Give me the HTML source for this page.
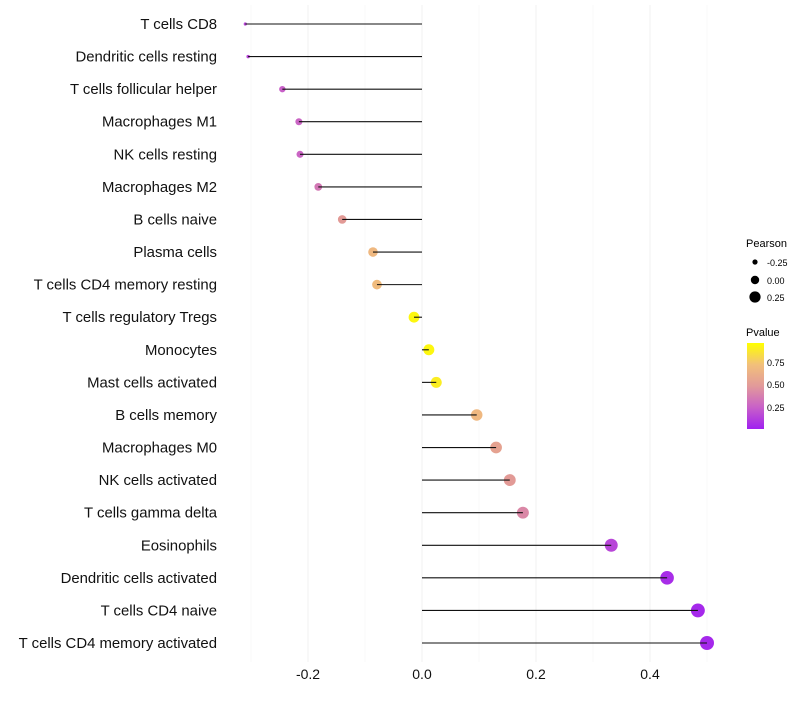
<!DOCTYPE html>
<html><head><meta charset="utf-8"><style>
body{margin:0;background:#fff;}
svg text{font-family:"Liberation Sans",sans-serif;}
</style></head><body>
<svg id="chart" width="800" height="700" xmlns="http://www.w3.org/2000/svg">
<defs><linearGradient id="pg" x1="0" y1="1" x2="0" y2="0">
<stop offset="0" stop-color="#a020f0"/><stop offset="0.25" stop-color="#c860c8"/><stop offset="0.5" stop-color="#e29a9a"/><stop offset="0.75" stop-color="#f2c07a"/><stop offset="1" stop-color="#ffff00"/></linearGradient></defs>
<g id="grid"></g>
<g id="dots"></g>
<g id="marks"></g>
<g id="ylab"></g>
<g id="xlab"></g>
<g>
<text x="746" y="247" font-size="11" fill="#000">Pearson</text>
<circle cx="755" cy="262" r="2.6" fill="#000"/>
<text x="767" y="266" font-size="9">-0.25</text>
<circle cx="755" cy="280" r="4.2" fill="#000"/>
<text x="767" y="284" font-size="9">0.00</text>
<circle cx="755" cy="297" r="5.6" fill="#000"/>
<text x="767" y="301" font-size="9">0.25</text>
</g>
<g>
<text x="746" y="336" font-size="11">Pvalue</text>
<rect x="747" y="343" width="17" height="86" fill="url(#pg)"/>
<text x="767" y="366" font-size="9">0.75</text>
<text x="767" y="388" font-size="9">0.50</text>
<text x="767" y="411" font-size="9">0.25</text>
</g>
</svg>
<script>
const categories=["T cells CD8","Dendritic cells resting","T cells follicular helper","Macrophages M1","NK cells resting","Macrophages M2","B cells naive","Plasma cells","T cells CD4 memory resting","T cells regulatory  Tregs ","Monocytes","Mast cells activated","B cells memory","Macrophages M0","NK cells activated","T cells gamma delta","Eosinophils","Dendritic cells activated","T cells CD4 naive","T cells CD4 memory activated"];
const pearson=[-0.31,-0.305,-0.245,-0.216,-0.214,-0.182,-0.14,-0.086,-0.079,-0.014,0.012,0.025,0.096,0.13,0.154,0.177,0.332,0.43,0.484,0.5];
const pvalue=[0.15,0.15,0.25,0.27,0.27,0.35,0.5,0.7,0.72,0.97,0.97,0.93,0.7,0.55,0.5,0.42,0.15,0.05,0.03,0.03];
const xTicks=[-0.2,0,0.2,0.4];
const xMinor=[-0.3,-0.1,0.1,0.3,0.5];
const NS="http://www.w3.org/2000/svg";
const X=v=>422+v*570;
const Y=i=>24+i*(643-24)/19;
const sizeKnots=[[-0.31,1.6],[-0.245,3.2],[-0.14,4.3],[-0.014,5.4],[0.5,7]];
function R(v){if(v<=sizeKnots[0][0])return sizeKnots[0][1];for(let k=0;k<sizeKnots.length-1;k++){const a=sizeKnots[k],b=sizeKnots[k+1];if(v<=b[0])return a[1]+(b[1]-a[1])*(v-a[0])/(b[0]-a[0]);}return sizeKnots[sizeKnots.length-1][1];}
function lerp(a,b,t){return a.map((x,i)=>Math.round(x+(b[i]-x)*t));}
const stops=[[0,[160,32,240]],[0.25,[200,96,200]],[0.5,[226,154,150]],[0.75,[242,192,122]],[1,[255,255,0]]];
function col(p){p=Math.max(0,Math.min(1,p));for(let k=0;k<stops.length-1;k++){if(p<=stops[k+1][0]){const t=(p-stops[k][0])/(stops[k+1][0]-stops[k][0]);return "rgb("+lerp(stops[k][1],stops[k+1][1],t).join(",")+")";}}return "rgb(255,255,0)";}
function mk(tag,attrs,parent){const e=document.createElementNS(NS,tag);for(const k in attrs)e.setAttribute(k,attrs[k]);parent.appendChild(e);return e;}
const grid=document.getElementById("grid"),marks=document.getElementById("marks"),dots=document.getElementById("dots"),ylab=document.getElementById("ylab"),xlab=document.getElementById("xlab");
xMinor.forEach(v=>{const l=mk("line",{x1:X(v),x2:X(v),y1:5,y2:662,stroke:"#f5f5f5","stroke-width":0.6},grid);

});
xTicks.forEach(v=>{const l=mk("line",{x1:X(v),x2:X(v),y1:5,y2:662,stroke:"#f0f0f0","stroke-width":1},grid);


const t=mk("text",{x:X(v),y:679,"font-size":14,"text-anchor":"middle",fill:"#111"},xlab);t.textContent=v.toFixed(1);

});
categories.forEach((c,i)=>{const y=Y(i);
const d=mk("circle",{cx:X(pearson[i]),cy:y,r:R(pearson[i]),fill:col(pvalue[i])},dots);


const l=mk("line",{x1:X(0),x2:X(pearson[i]),y1:y,y2:y,stroke:"#111","stroke-width":1.1},marks);


const t=mk("text",{x:217,y:y+5,"font-size":14.9,"text-anchor":"end",fill:"#111"},ylab);t.textContent=c;t.setAttribute("xml:space","preserve");

});
</script>
</body></html>
